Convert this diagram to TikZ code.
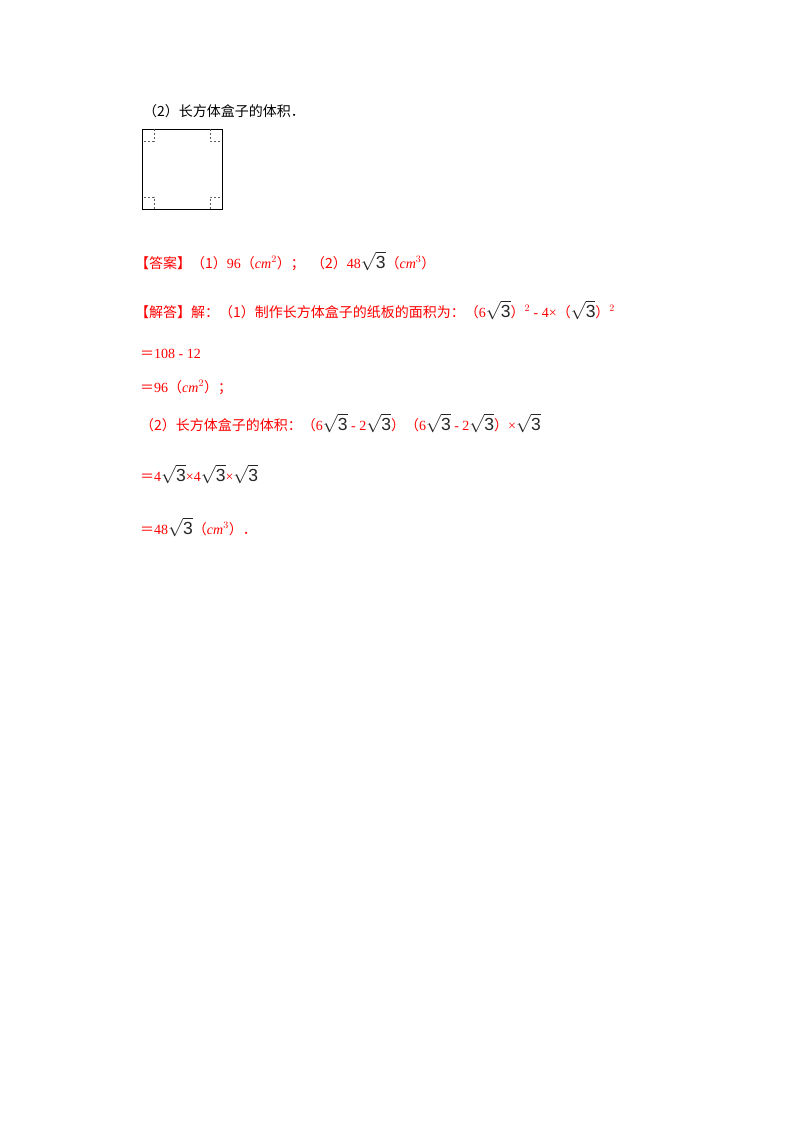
\documentclass[tikz,border=0pt]{standalone}
\usepackage{fontspec}
\usepackage{graphicx}
\setmainfont{Liberation Serif}
\newfontfamily\cjk{Noto Sans CJK SC}
\newfontfamily\sqfont{Liberation Sans}
\definecolor{ansred}{RGB}{255,0,0}
\newcommand{\zh}[1]{{\cjk #1}}
\newcommand{\rt}{\textcolor{black!85}{\scalebox{1.25}{$\sqrt{\hbox{\sqfont 3}}$}}}
\begin{document}
\begin{tikzpicture}[x=1pt,y=-1pt,
  txt/.style={anchor=base west,inner sep=0pt,font=\fontsize{14}{16}\selectfont},
  red/.style={txt,text=ansred}]
\useasboundingbox (0,0) rectangle (800,1132);
\node[txt] (q) at (143,116) {\zh{（2）长方体盒子的体积．}};
\draw[line width=1pt] (142,129) rectangle (222,209);
\foreach \cx/\cy/\dx/\dy in {142/129/1/1,222/129/-1/1,142/209/1/-1,222/209/-1/-1}
  \draw[dashed,dash pattern=on 2pt off 2pt,gray!70!black,line width=0.6pt]
    (\cx+12*\dx,\cy) -- (\cx+12*\dx,\cy+12*\dy) -- (\cx,\cy+12*\dy);
\node[red] (ans) at (135,268) {\zh{【答案】（1）}96\zh{（}\textit{cm}$^2$\zh{）；\ \ （2）}48\rt\zh{（}\textit{cm}$^3$\zh{）}};
\node[red] (s1) at (135,317) {\zh{【解答】解：（1）制作长方体盒子的纸板的面积为：（}6\rt\zh{）}$^{2}$ - 4×\zh{（}\rt\zh{）}$^{2}$};
\node[red] (s2) at (140,358) {\zh{＝}108 - 12};
\node[red] (s3) at (140,392) {\zh{＝}96\zh{（}\textit{cm}$^2$\zh{）；}};
\node[red] (s4) at (140,430) {\zh{（2）长方体盒子的体积：（}6\rt{} - 2\rt\zh{）（}6\rt{} - 2\rt\zh{）}×\rt};
\node[red] (s5) at (140,481) {\zh{＝}4\rt×4\rt×\rt};
\node[red] (s6) at (140,534) {\zh{＝}48\rt\zh{（}\textit{cm}$^3$\zh{）．}};
\end{tikzpicture}
\end{document}
